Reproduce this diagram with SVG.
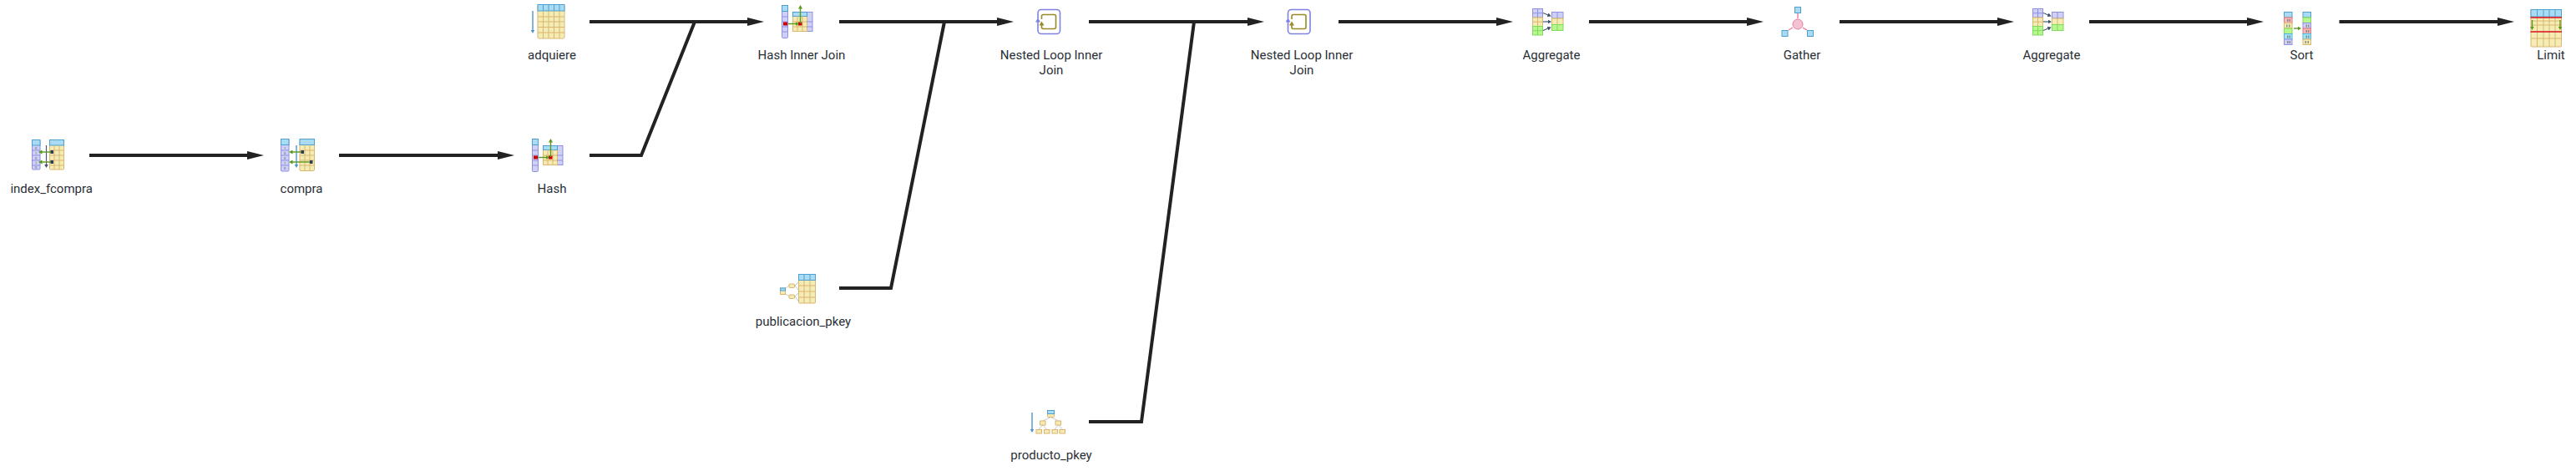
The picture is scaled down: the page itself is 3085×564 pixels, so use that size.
<svg xmlns="http://www.w3.org/2000/svg" xmlns:xlink="http://www.w3.org/1999/xlink" width="3085" height="564" viewBox="0 0 3085 564">
<style>
text{font-family:Roboto,"Liberation Sans",sans-serif;font-size:15px;fill:#2a2f36;text-anchor:middle}
text.d{font-size:4px;fill:#555}
.e{fill:none;stroke:#222;stroke-width:4;stroke-linejoin:miter}
.bl{fill:#a9dcf3;stroke:#4f9fd0;stroke-width:1}
.ye{fill:#f3edb5;stroke:#dcb56e;stroke-width:1}
.pu{fill:#cfd0f5;stroke:#8f90e2;stroke-width:1}
.gr{fill:#b8f68e;stroke:#7fdc5a;stroke-width:1}
.re{fill:#f8b8b8;stroke:#e87878;stroke-width:1}
.cy{fill:#9fe6f8;stroke:#50b8e0;stroke-width:1}
.gy{fill:none;stroke:#dcb56e;stroke-width:1}
.gp{fill:none;stroke:#8f90e2;stroke-width:1}
.gg{fill:none;stroke:#7fdc5a;stroke-width:1}
.gb{fill:none;stroke:#4f9fd0;stroke-width:1}
.ga{fill:none;stroke:#5a9a1f;stroke-width:1.4}
.ba{fill:none;stroke:#4f96c8;stroke-width:1.4}
.da{fill:none;stroke:#4a5a70;stroke-width:1.2}
.lk{fill:none;stroke:#c9c9c9;stroke-width:1}
.pk{fill:none;stroke:#e87c9c;stroke-width:1.4}
.rl{fill:none;stroke:#d81020;stroke-width:1.4}
.nlo{fill:none;stroke:#8082e0;stroke-width:1.6}
.nli{fill:none;stroke:#9a8a22;stroke-width:1.6}
.sq{fill:#2f3f55}
.rs{fill:#cc0000}
.tk{fill:#8a8a8a}
</style>
<defs>
<marker id="ah" markerUnits="userSpaceOnUse" markerWidth="21" markerHeight="12" refX="1" refY="6" orient="auto"><path d="M0 1L20 6L0 11Z" fill="#222"/></marker>
<marker id="gh" markerUnits="userSpaceOnUse" markerWidth="5" markerHeight="5" refX="0.5" refY="2.5" orient="auto"><path d="M0 0L4.5 2.5L0 5Z" fill="#5a9a1f"/></marker>
<marker id="bh" markerUnits="userSpaceOnUse" markerWidth="5" markerHeight="5" refX="0.5" refY="2.5" orient="auto"><path d="M0 0L4.5 2.5L0 5Z" fill="#4f96c8"/></marker>
<marker id="dh" markerUnits="userSpaceOnUse" markerWidth="5" markerHeight="5" refX="0.5" refY="2.5" orient="auto"><path d="M0 0L4.5 2.5L0 5Z" fill="#3f4f65"/></marker>
<marker id="ph" markerUnits="userSpaceOnUse" markerWidth="6" markerHeight="6" refX="0.5" refY="3" orient="auto"><path d="M0 0L5 3L0 6Z" fill="#8082e0"/></marker>
<marker id="oh" markerUnits="userSpaceOnUse" markerWidth="6" markerHeight="6" refX="0.5" refY="3" orient="auto"><path d="M0 0L5 3L0 6Z" fill="#9a8a22"/></marker>
<g id="ihash">
<rect class="pu" x="637.5" y="166.5" width="7" height="39" rx="1"/><rect class="bl" x="637.5" y="166.5" width="7" height="7"/>
<path class="gp" d="M637.5 180h7M637.5 186h7M637.5 192h7M637.5 198h7"/>
<rect class="rs" x="639" y="186.5" width="5" height="4"/>
<rect class="pu" x="667" y="174.5" width="7" height="23"/>
<rect class="ye" x="650.5" y="174.5" width="17" height="23"/><rect class="bl" x="650.5" y="174.5" width="17" height="5"/>
<path class="gy" d="M650.5 186h17M650.5 192h17M656 179v18M662 179v18"/><path class="gp" d="M667 186h7M667 192h7"/>
<rect class="rs" x="657" y="186.5" width="4.5" height="4"/>
<path class="ga" marker-end="url(#gh)" d="M645 188.5h9"/><path class="ga" marker-end="url(#gh)" d="M659.5 188V170"/>
</g>
<g id="iloop">
<path class="nlo" d="M1243 22.500V15.500a4 4 0 0 1 4-4h18.500a4 4 0 0 1 4 4v21a4 4 0 0 1-4 4h-18.500a4 4 0 0 1-4-4V29.500"/>
<path class="nlo" marker-end="url(#ph)" d="M1243 30V26"/>
<path class="nli" d="M1247.500 23V19.500a2 2 0 0 1 2-2h13a2 2 0 0 1 2 2v13a2 2 0 0 1-2 2h-13a2 2 0 0 1-2-2V32"/>
<path class="nli" marker-end="url(#oh)" d="M1247.500 32.500V30"/>
</g>
<g id="iagg">
<rect class="pu" x="1835.500" y="10.500" width="12" height="10.500"/><rect class="ye" x="1835.500" y="21" width="12" height="10.500"/><rect class="gr" x="1835.500" y="31.500" width="12" height="10.500"/>
<path class="gp" d="M1841.500 10.500v10.500M1835.500 15.700h12"/><path class="gy" d="M1841.500 21v10.500M1835.500 26.200h12"/><path class="gg" d="M1841.500 31.500v10.500M1835.500 36.700h12"/>
<rect class="pu" x="1858.500" y="14.500" width="13.500" height="7.500"/><rect class="ye" x="1858.500" y="22" width="13.500" height="7.500"/><rect class="gr" x="1858.500" y="29.500" width="13.500" height="7"/>
<path class="gp" d="M1865 14.500v7.500"/><path class="gy" d="M1865 22v7.500"/><path class="gg" d="M1865 29.500v7"/>
<path class="da" marker-end="url(#dh)" d="M1848 15.500L1854 18"/><path class="da" marker-end="url(#dh)" d="M1848 26H1854"/><path class="da" marker-end="url(#dh)" d="M1848 36.500L1854 34"/>
</g>
</defs>
<g id="connectors">
<path class="e" marker-end="url(#ah)" d="M107 186H297"/>
<path class="e" marker-end="url(#ah)" d="M406 186H597"/>
<path class="e" marker-end="url(#ah)" d="M706 26H896"/>
<path class="e" d="M706 186H768L832 26"/>
<path class="e" marker-end="url(#ah)" d="M1005 26H1195"/>
<path class="e" d="M1005 345H1067L1131 26"/>
<path class="e" marker-end="url(#ah)" d="M1304 26H1495"/>
<path class="e" d="M1304 505H1367L1430 26"/>
<path class="e" marker-end="url(#ah)" d="M1603 26H1793"/>
<path class="e" marker-end="url(#ah)" d="M1903 26H2093"/>
<path class="e" marker-end="url(#ah)" d="M2203 26H2393"/>
<path class="e" marker-end="url(#ah)" d="M2502 26H2692"/>
<path class="e" marker-end="url(#ah)" d="M2801.500 26H2992"/>
</g>
<g id="index_fcompra">
<rect class="pu" x="38.500" y="167.500" width="9.500" height="35.500" rx="1"/><rect class="bl" x="38.500" y="167.500" width="9.500" height="6.500"/>
<path class="gp" d="M38.500 180h9.500M38.500 186h9.500M38.500 192h9.500M38.500 198h9.500"/>
<text class="d" x="43" y="178.500">0</text><text class="d" x="43" y="184.500">1</text><text class="d" x="43" y="190.500">0</text><text class="d" x="43" y="196.500">1</text><text class="d" x="43" y="202">0</text>
<rect class="ye" x="59.500" y="167.500" width="17" height="35.500" rx="1"/><rect class="bl" x="59.500" y="167.500" width="17" height="6.500"/>
<path class="gy" d="M65 174v29M71 174v29M59.500 180h17M59.500 186h17M59.500 192h17M59.500 198h17"/>
<path class="da" marker-end="url(#dh)" d="M55.500 174V197"/>
<path class="ga" marker-end="url(#gh)" d="M62 182H50"/><path class="ga" marker-end="url(#gh)" d="M62 194H50"/>
<rect class="sq" x="60.500" y="180" width="3.500" height="4"/><rect class="sq" x="60.500" y="192" width="3.500" height="4"/>
<text x="61.700" y="231">index_fcompra</text>
</g>
<g id="compra">
<rect class="pu" x="336.500" y="166.500" width="9.500" height="38.500" rx="1"/><rect class="bl" x="336.500" y="166.500" width="9.500" height="7"/>
<path class="gp" d="M336.500 180h9.500M336.500 186h9.500M336.500 192h9.500M336.500 198h9.500"/>
<text class="d" x="341" y="178.500">1</text><text class="d" x="341" y="184.500">0</text><text class="d" x="341" y="190.500">0</text><text class="d" x="341" y="196.500">1</text><text class="d" x="341" y="203">0</text>
<rect class="ye" x="359" y="166.500" width="17.500" height="38" rx="1"/><rect class="bl" x="359" y="166.500" width="17.500" height="7"/>
<path class="gy" d="M365 173.500v31M371 173.500v31M359 180h17.500M359 186h17.500M359 192h17.500M359 198h17.500"/>
<path class="ba" marker-end="url(#bh)" d="M355 174V197"/>
<path class="ga" marker-end="url(#gh)" d="M362 182H350"/><path class="ga" marker-end="url(#gh)" d="M373 194H350"/>
<rect class="sq" x="360.500" y="180" width="3.500" height="4"/><rect class="sq" x="371" y="192" width="3.500" height="4"/>
<text x="361" y="231">compra</text>
</g>
<g id="hash"><use xlink:href="#ihash"/><text x="661" y="231">Hash</text></g>
<g id="adquiere">
<rect class="ye" x="644" y="5.500" width="32" height="40.500" rx="1.500"/><rect class="bl" x="644" y="5.500" width="32" height="7.500"/>
<path class="gy" d="M650.500 13v33M657 13v33M663.500 13v33M670 13v33M644 20h32M644 26h32M644 32.500h32M644 39h32"/>
<path class="gb" d="M650.500 5.500v7.500M657 5.500v7.500M663.500 5.500v7.500M670 5.500v7.500"/>
<path class="ba" marker-end="url(#bh)" d="M638 13V36"/>
<text x="661" y="71">adquiere</text>
</g>
<g id="hash_inner_join"><use xlink:href="#ihash" transform="translate(299 -160)"/><text x="960" y="71">Hash Inner Join</text></g>
<g id="publicacion_pkey">
<rect class="ye" x="956.500" y="328.500" width="20" height="34.500" rx="1"/><rect class="bl" x="956.500" y="328.500" width="20" height="7"/>
<path class="gy" d="M963 335.500v27.500M970 335.500v27.500M956.500 342h20M956.500 349h20M956.500 356h20"/><path class="gb" d="M963 328.500v7M970 328.500v7"/>
<path class="lk" d="M941 345L945 342M941 352L945 355M952 342L956 338M952 342L956 347M952 355L956 351M952 355L956 360"/>
<rect class="ye" x="934.500" y="345" width="6" height="7.500"/><rect class="bl" x="934.500" y="345" width="6" height="3"/>
<rect class="ye" x="945" y="340" width="6.500" height="4.500" rx="1"/><rect class="ye" x="945" y="353" width="6.500" height="4.500" rx="1"/>
<text x="962" y="390">publicacion_pkey</text>
</g>
<g id="nested_loop_1"><use xlink:href="#iloop"/><text x="1259" y="71">Nested Loop Inner</text><text x="1259" y="89">Join</text></g>
<g id="producto_pkey">
<path class="lk" d="M1258.500 499.500L1249 504M1258.500 499.500L1267.500 504M1249 509L1244 514M1249 509L1253.500 514M1267.500 509L1263 514M1267.500 509L1272.500 514"/>
<rect class="ye" x="1254.500" y="491.500" width="8" height="8" rx="1"/><rect class="bl" x="1254.500" y="491.500" width="8" height="4"/>
<rect class="ye" x="1245.500" y="504" width="6.500" height="5"/><rect class="ye" x="1264" y="504" width="6.500" height="5"/>
<rect class="ye" x="1241" y="514.500" width="6.500" height="4.500"/><rect class="ye" x="1250.500" y="514.500" width="6.500" height="4.500"/><rect class="ye" x="1260" y="514.500" width="6.500" height="4.500"/><rect class="ye" x="1269" y="514.500" width="6.500" height="4.500"/>
<path class="ba" marker-end="url(#bh)" d="M1236 494V514"/>
<text x="1259" y="550">producto_pkey</text>
</g>
<g id="nested_loop_2"><use xlink:href="#iloop" transform="translate(299.500 0)"/><text x="1559" y="71">Nested Loop Inner</text><text x="1559" y="89">Join</text></g>
<g id="aggregate_1"><use xlink:href="#iagg"/><text x="1858" y="71">Aggregate</text></g>
<g id="gather">
<path class="pk" d="M2153 16V22M2147 33L2142 36M2159 33L2164 36"/>
<circle cx="2153" cy="29" r="6" fill="#f4c2d4" stroke="#e87c9c" stroke-width="1"/>
<rect class="bl" x="2149.500" y="8.500" width="7" height="7"/><rect class="bl" x="2134" y="36.500" width="7" height="7"/><rect class="bl" x="2164.500" y="36.500" width="7" height="7"/>
<text x="2158" y="71">Gather</text>
</g>
<g id="aggregate_2"><use xlink:href="#iagg" transform="translate(599 0)"/><text x="2457" y="71">Aggregate</text></g>
<g id="sort">
<rect class="bl" x="2735.500" y="14.500" width="9.500" height="6.500"/><rect class="re" x="2735.500" y="21" width="9.500" height="6.500"/><rect class="ye" x="2735.500" y="27.500" width="9.500" height="6.500"/><rect class="gr" x="2735.500" y="34" width="9.500" height="6.500"/><rect class="cy" x="2735.500" y="40.500" width="9.500" height="6.500"/><rect class="pu" x="2735.500" y="47" width="9.500" height="6.500"/>
<rect class="bl" x="2758" y="14.500" width="9.500" height="6.500"/><rect class="gr" x="2758" y="21" width="9.500" height="6.500"/><rect class="pu" x="2758" y="27.500" width="9.500" height="6.500"/><rect class="re" x="2758" y="34" width="9.500" height="6.500"/><rect class="cy" x="2758" y="40.500" width="9.500" height="6.500"/><rect class="ye" x="2758" y="47" width="9.500" height="6.500"/>
<path class="tk" d="M2739 23h1.500v3h-1.500zM2741.500 23h1.500v3h-1.500zM2738 29.500h1.500v3h-1.500zM2741 29.500h1.500v3h-1.500zM2739 42.500h1.500v3h-1.500zM2741.500 42.500h1.500v3h-1.500zM2739 49h1.500v3h-1.500zM2741.500 49h1.500v3h-1.500zM2761.500 29.500h1.500v3h-1.500zM2764 29.500h1.500v3h-1.500zM2761.500 36h1.500v3h-1.500zM2764 36h1.500v3h-1.500zM2761.500 42.500h1.500v3h-1.500zM2764 42.500h1.500v3h-1.500zM2760.500 49h1.500v3h-1.500zM2763.500 49h1.500v3h-1.500z"/>
<path class="ga" marker-end="url(#gh)" d="M2747 34H2752"/>
<text x="2756.500" y="71">Sort</text>
</g>
<g id="limit">
<rect class="ye" x="3031" y="11.500" width="36.500" height="44.500" rx="1"/><rect class="bl" x="3031" y="11.500" width="36.500" height="8.500"/>
<path class="gy" d="M3038.500 20v36M3046 20v36M3053 20v36M3060 20v36M3031 25h36.500M3031 30h36.500M3031 46h36.500"/><path class="gb" d="M3038.500 11.500v8.500M3046 11.500v8.500M3053 11.500v8.500M3060 11.500v8.500"/>
<path class="rl" d="M3030.500 21H3068M3030.500 38H3068"/>
<path class="ga" marker-end="url(#gh)" d="M3032.500 24V32"/><path class="ga" marker-end="url(#gh)" d="M3066 24V32"/>
<text x="3055" y="71">Limit</text>
</g>
</svg>
